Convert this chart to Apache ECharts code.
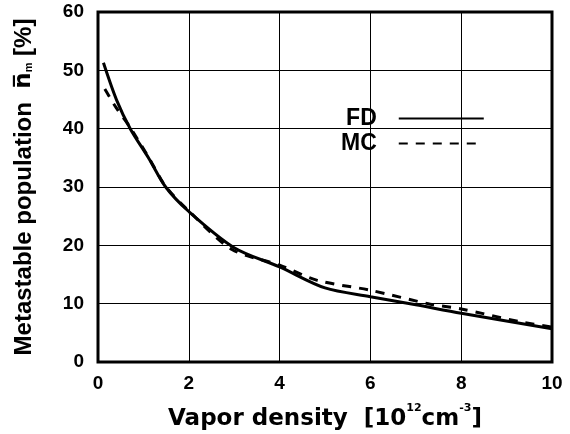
<!DOCTYPE html>
<html>
<head>
<meta charset="utf-8">
<script src="https://cdn.jsdelivr.net/npm/echarts@6/dist/echarts.min.js"></script>
<style>
  html, body { margin: 0; padding: 0; background: #fff; }
  #chart { width: 570px; height: 434px; }
</style>
</head>
<body>
<div id="chart"></div>
<script>
// 数据: 蒸气密度 x 与亚稳态布居 y
var fdX = [0.12, 0.41, 0.71, 1.12, 1.49, 2.0, 3.0, 4.0, 5.0, 6.0, 7.0, 8.0, 10.0];
var fdY = [51.3, 44.9, 40.0, 34.9, 30.0, 25.8, 19.6, 16.3, 12.7, 11.2, 9.8, 8.35, 5.7];
var mcX = [0.15, 0.4, 0.71, 1.12, 1.49, 2.0, 2.95, 4.0, 4.83, 6.0, 7.3, 8.0, 9.3, 10.0];
var mcY = [46.8, 43.6, 40.2, 35.0, 30.1, 25.9, 19.3, 16.6, 14.0, 12.3, 9.95, 9.1, 6.9, 6.0];
var xTicks = [0, 2, 4, 6, 8, 10];
var yTicks = [0, 10, 20, 30, 40, 50, 60];

function pairs(xs, ys) {
  return xs.map(function (x, i) { return [x, ys[i]]; });
}

var font = 'Liberation Sans, Arial, sans-serif';
var chart = echarts.init(document.getElementById('chart'));

chart.setOption({
  animation: false,
  backgroundColor: '#fff',
  grid: {
    left: 98, right: 18, top: 12, bottom: 72,
    outerBoundsMode: 'none',
    show: true, borderColor: '#000', borderWidth: 3
  },
  legend: {
    left: 336, top: 102,
    orient: 'vertical',
    align: 'right',
    itemWidth: 85, itemHeight: 14, itemGap: 2,
    itemStyle: { opacity: 0 },
    textStyle: {
      fontFamily: font, fontWeight: 'bold', fontSize: 23, color: '#000',
      padding: [0, 17, 0, 0]
    },
    data: ['FD', 'MC']
  },
  xAxis: {
    type: 'value', min: xTicks[0], max: xTicks[xTicks.length - 1], interval: 2,
    axisLine: { show: false },
    axisTick: { show: false },
    splitLine: { lineStyle: { color: '#000', width: 1 } },
    axisLabel: { fontFamily: font, fontWeight: 'bold', fontSize: 19, color: '#000', margin: 12 },
    name: '{t|Vapor density  [10}{sup|12}{t|cm}{sup|-3}{t|]}',
    nameLocation: 'middle', nameGap: 41,
    nameTextStyle: {
      fontFamily: 'DejaVu Sans', fontWeight: 'bold', fontSize: 23, color: '#000',
      rich: {
        t: { fontFamily: 'DejaVu Sans', fontWeight: 'bold', fontSize: 23, color: '#000', lineHeight: 28, verticalAlign: 'bottom' },
        sup: { fontFamily: 'DejaVu Sans', fontWeight: 'bold', fontSize: 11, color: '#000', lineHeight: 20, verticalAlign: 'top' }
      }
    }
  },
  yAxis: {
    type: 'value', min: yTicks[0], max: yTicks[yTicks.length - 1], interval: 10,
    axisLine: { show: false },
    axisTick: { show: false },
    splitLine: { lineStyle: { color: '#000', width: 1 } },
    axisLabel: { fontFamily: font, fontWeight: 'bold', fontSize: 19, color: '#000', margin: 14 },
    name: 'Metastable population  {n|n\u0305}{sub|m} [%]',
    nameLocation: 'middle', nameGap: 62,
    nameTextStyle: {
      fontFamily: font, fontWeight: 'bold', fontSize: 24, color: '#000',
      rich: {
        n: { fontFamily: 'DejaVu Sans', fontWeight: 'bold', fontSize: 23, color: '#000' },
        sub: { fontFamily: font, fontWeight: 'bold', fontSize: 11, color: '#000', padding: [9, 0, 0, 0] }
      }
    }
  },
  series: [
    {
      name: 'FD', type: 'line', symbol: 'none', smooth: 0.3,
      lineStyle: { color: '#000', width: 3 },
      itemStyle: { color: '#000' },
      data: pairs(fdX, fdY)
    },
    {
      name: 'MC', type: 'line', symbol: 'none', smooth: 0.3,
      lineStyle: { color: '#000', width: 3, type: [9, 8] },
      itemStyle: { color: '#000' },
      data: pairs(mcX, mcY)
    }
  ]
});
</script>
</body>
</html>
